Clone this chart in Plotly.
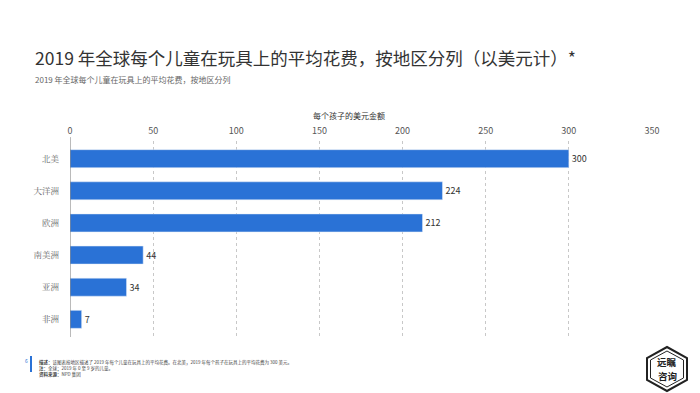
import plotly.graph_objects as go

regions = ["北美", "大洋洲", "欧洲", "南美洲", "亚洲", "非洲"]
spend = [300, 224, 212, 44, 34, 7]
x_ticks = [0, 50, 100, 150, 200, 250, 300, 350]

W, H = 700, 393
L, R, T, B = 70, 48, 141, 56
PW, PH = W - L - R, H - T - B

def px(x):
    return (x - L) / PW

def py(y):
    return (H - B - y) / PH

fig = go.Figure(go.Bar(
    x=spend, y=regions, orientation="h",
    marker=dict(color="#2a72d6"),
    width=0.56,
    text=[str(v) for v in spend], textposition="outside",
    textfont=dict(size=9, color="#333", family="Noto Sans CJK SC"),
    cliponaxis=False,
))

fig.update_layout(
    width=W, height=H,
    margin=dict(l=L, r=R, t=T, b=B),
    paper_bgcolor="white", plot_bgcolor="white",
    showlegend=False,
    font=dict(family="Noto Sans CJK SC", color="#444"),
    xaxis=dict(
        side="top", range=[0, 350], tickvals=x_ticks,
        showgrid=True, gridcolor="#c8c8c8", griddash="dot", gridwidth=1,
        zeroline=False, showline=False,
        tickfont=dict(size=9, color="#555"), ticks="", ticklabelstandoff=4,
    ),
    yaxis=dict(
        range=[5.55, -0.55], showgrid=False, zeroline=False,
        showline=False, ticks="",
        tickfont=dict(size=8.5, color="#666", family="Noto Serif CJK SC, Noto Sans CJK SC"),
        ticklabelstandoff=10,
    ),
)

# y-axis line at x=0
fig.add_shape(type="line", xref="x", yref="paper", x0=0, x1=0, y0=0, y1=1.02,
              line=dict(color="#777", width=1))

ann = []
ann.append(dict(text="2019 年全球每个儿童在玩具上的平均花费，按地区分列（以美元计）*",
                x=px(33), y=py(57), xanchor="left", yanchor="middle",
                font=dict(size=17.5, color="#333")))
ann.append(dict(text="2019 年全球每个儿童在玩具上的平均花费，按地区分列",
                x=px(33), y=py(79), xanchor="left", yanchor="middle",
                font=dict(size=8, color="#666")))
ann.append(dict(text="每个孩子的美元金额", x=px(349), y=py(116),
                xanchor="center", yanchor="middle", font=dict(size=8, color="#333")))
# footer
ann.append(dict(text="6", x=px(26), y=py(360), xanchor="center", yanchor="middle",
                font=dict(size=5, color="#2a72d6")))
ann.append(dict(
    text="<b>描述：</b>该图表按地区描述了 2019 年每个儿童在玩具上的平均花费。在北美，2019 年每个孩子在玩具上的平均花费为 300 美元。"
         "<br><b>注：</b>全球；2019 年 0 至 9 岁的儿童。<br><b>资料来源：</b>NPD 集团",
    x=px(37), y=py(357), xanchor="left", yanchor="top", align="left",
    font=dict(size=4.5, color="#444")))
# logo text (two lines)
ann.append(dict(text="<b>远瞩</b>", x=px(667), y=py(362), xanchor="center",
                yanchor="middle", font=dict(size=9.5, color="#222")))
ann.append(dict(text="<b>咨询</b>", x=px(667), y=py(376), xanchor="center",
                yanchor="middle", font=dict(size=9.5, color="#222")))
for a in ann:
    a.update(xref="paper", yref="paper", showarrow=False)
fig.update_layout(annotations=ann)

# footer blue bar
fig.add_shape(type="rect", xref="paper", yref="paper",
              x0=px(30), x1=px(32), y0=py(372), y1=py(356),
              fillcolor="#2a72d6", line=dict(width=0))

# logo hexagon
def hexpath(cx, cy, rx, ry):
    pts = [(cx, cy - ry), (cx + rx, cy - ry / 2), (cx + rx, cy + ry / 2),
           (cx, cy + ry), (cx - rx, cy + ry / 2), (cx - rx, cy - ry / 2)]
    return "M " + " L ".join(f"{px(a):.5f},{py(b):.5f}" for a, b in pts) + " Z"

fig.add_shape(type="path", xref="paper", yref="paper", path=hexpath(667, 369, 20, 22),
              line=dict(color="#222", width=2), fillcolor="white", layer="below")
fig.add_shape(type="path", xref="paper", yref="paper", path=hexpath(667, 369, 16.5, 18),
              line=dict(color="#222", width=1), layer="below")

fig.write_html("out.html", config={"displayModeBar": False},
               post_script="document.body.style.margin='0px';")
